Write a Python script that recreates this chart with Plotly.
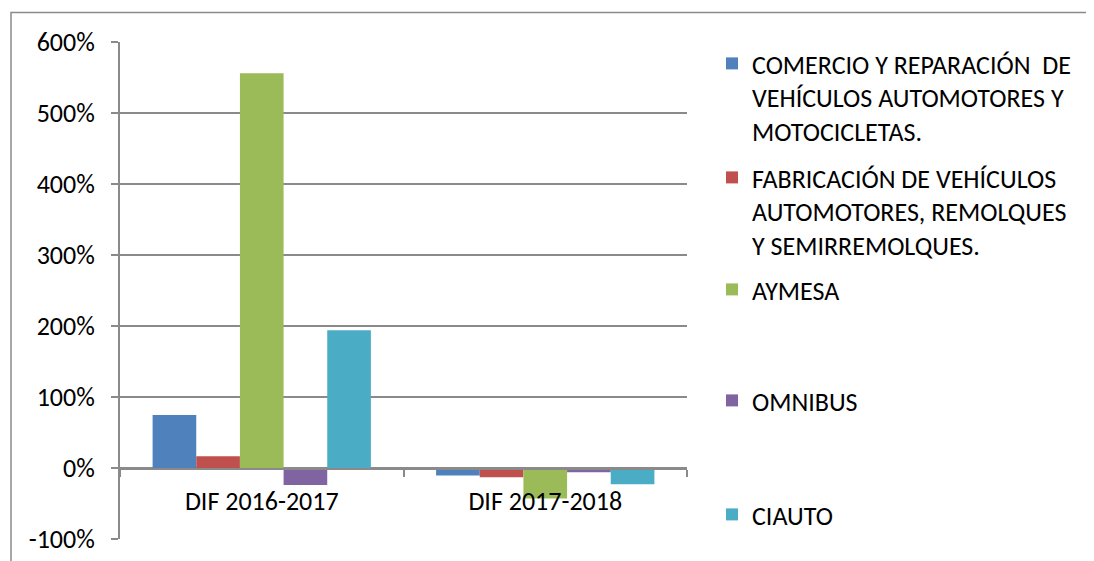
import plotly.graph_objects as go

categories = ["DIF 2016-2017", "DIF 2017-2018"]
series_names = [
    "COMERCIO Y REPARACIÓN  DE<br>VEHÍCULOS AUTOMOTORES Y<br>MOTOCICLETAS.",
    "FABRICACIÓN DE VEHÍCULOS<br>AUTOMOTORES, REMOLQUES<br>Y SEMIRREMOLQUES.",
    "AYMESA",
    "OMNIBUS",
    "CIAUTO",
]
comercio = [0.745, -0.105]
fabricacion = [0.165, -0.13]
aymesa = [5.56, -0.43]
omnibus = [-0.24, -0.06]
ciauto = [1.94, -0.23]
values = [comercio, fabricacion, aymesa, omnibus, ciauto]
colors = ["#4F81BD", "#C0504D", "#9BBB59", "#8064A2", "#4BACC6"]
ytick_vals = [-1, 0, 1, 2, 3, 4, 5, 6]
ytick_text = ["-100%", "0%", "100%", "200%", "300%", "400%", "500%", "600%"]

FONT = "Carlito, Lato, sans-serif"
# page has an 8px body margin; figure placed at (8, 8)
OFF = 8
W, H = 1094 - OFF, 561 - OFF
PX0, PX1 = 120, 687   # plot area in page coords
PY0, PY1 = 42, 539
ml, mt = PX0 - OFF, PY0 - OFF
mr = W - ml - (PX1 - PX0)
mb = H - mt - (PY1 - PY0)

def py(p):
    return (PY1 - p) / (PY1 - PY0)

def px(p):
    return (p - PX0) / (PX1 - PX0)

legend_tops = [40, 154, 266, 377, 491]
legend_names = ["legend", "legend2", "legend3", "legend4", "legend5"]

fig = go.Figure()
for name, vals, col, lg in zip(series_names, values, colors, legend_names):
    fig.add_trace(go.Bar(
        x=categories, y=vals, name=name, marker_color=col,
        marker_line_width=0, legend=lg,
    ))

layout_legends = {}
for lg, top in zip(legend_names, legend_tops):
    layout_legends[lg] = dict(
        x=px(712), xanchor="left",
        y=py(top), yanchor="top",
        font=dict(family=FONT, size=26, color="#000000"),
        bgcolor="rgba(0,0,0,0)", valign="top", itemwidth=30,
    )

fig.update_layout(
    width=W, height=H,
    margin=dict(l=ml, r=mr, t=mt, b=mb, autoexpand=False),
    paper_bgcolor="white", plot_bgcolor="white",
    barmode="group", bargap=0.23, bargroupgap=0,
    font=dict(family=FONT, size=26, color="#000000"),
    showlegend=True,
    xaxis=dict(
        type="category", range=[-0.5, 1.5],
        anchor="free", position=py(468.5),
        showline=True, linecolor="#8a8a8a", linewidth=2,
        ticks="outside", tickson="boundaries", ticklen=7, tickcolor="#8a8a8a", tickwidth=2,
        showgrid=False, ticklabelstandoff=9, automargin=False,
        tickfont=dict(family=FONT, size=26, color="#000000"),
    ),
    yaxis=dict(
        range=[-1, 6], tickvals=ytick_vals, ticktext=ytick_text,
        showline=True, linecolor="#8a8a8a", linewidth=2,
        ticks="outside", ticklen=7, tickcolor="#8a8a8a", tickwidth=2,
        showgrid=True, gridcolor="#8a8a8a", gridwidth=2, zeroline=False,
        ticklabelstandoff=11, automargin=False,
        tickfont=dict(family=FONT, size=26, color="#000000"),
    ),
    shapes=[dict(
        type="rect", xref="paper", yref="paper",
        x0=px(11), x1=px(1094 + 20),
        y0=py(561 + 20), y1=py(12.5),
        line=dict(color="#8a8a8a", width=1.5), fillcolor="rgba(0,0,0,0)", layer="below",
    )],
    **layout_legends,
)

fig.write_html("out.html")
